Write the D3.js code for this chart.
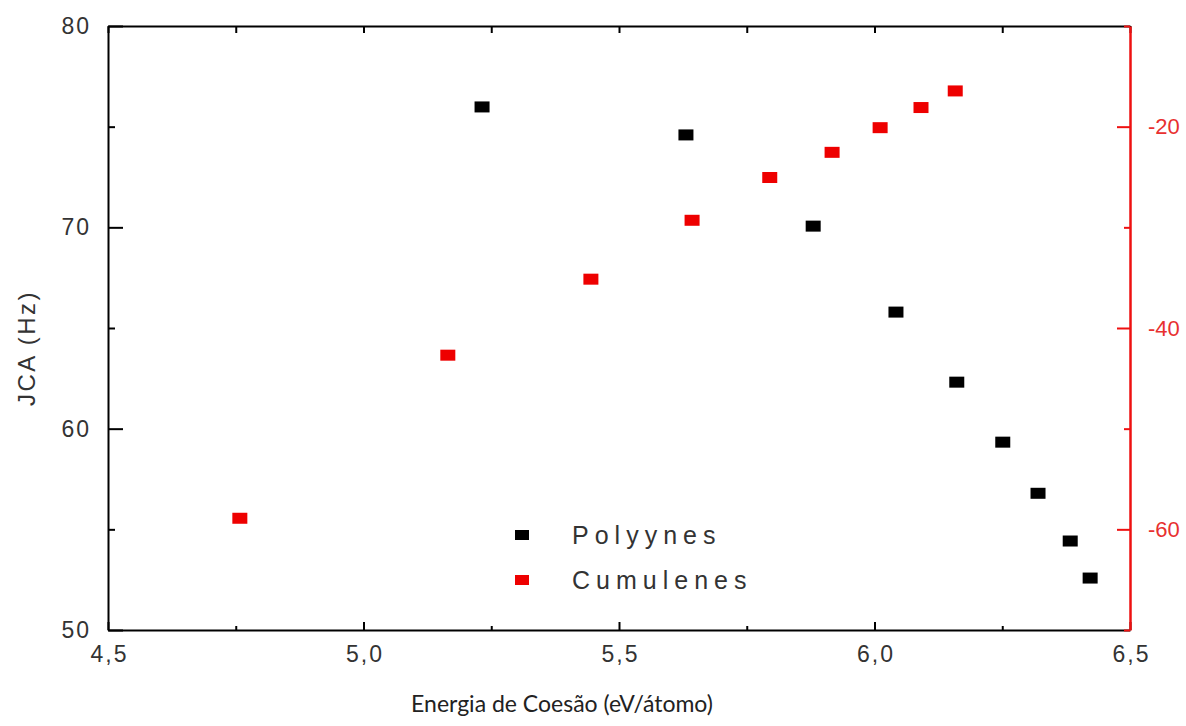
<!DOCTYPE html>
<html>
<head>
<meta charset="utf-8">
<script src="https://cdn.jsdelivr.net/npm/d3@7"></script>
<style>
  body { margin: 0; background: #fff; }
  svg text { font-family: "Liberation Sans", Arial, sans-serif; }
</style>
</head>
<body>
<div id="chart"></div>
<script>
// data
var polyX = [5.232, 5.631, 5.880, 6.042, 6.161, 6.251, 6.320, 6.383, 6.422];
var polyY = [75.98, 74.59, 70.06, 65.79, 62.31, 59.33, 56.79, 54.42, 52.58];
var cumX = [4.758, 5.165, 5.445, 5.643, 5.795, 5.917, 6.011, 6.091, 6.158];
var cumY = [-58.9, -42.7, -35.15, -29.3, -25.05, -22.55, -20.1, -18.1, -16.45];
var xTicks = [4.5, 5.0, 5.5, 6.0, 6.5];
var xMinor = [4.75, 5.25, 5.75, 6.25];
var leftTicks = [50, 60, 70, 80];
var leftMinor = [55, 65, 75];
var rightTicks = [-20, -40, -60];
var rightMinor = [-10, -30, -50, -70];
var seriesNames = ["Polyynes", "Cumulenes"];
var seriesColors = ["#000000", "#ee0000"];

var W = 1186, H = 726;
var margin = { top: 26, right: 56, bottom: 96, left: 108 };
var width = W - margin.left - margin.right,
    height = H - margin.top - margin.bottom;

var svg = d3.select("#chart")
  .append("svg")
  .attr("width", W)
  .attr("height", H);

var g = svg.append("g")
  .attr("transform", "translate(" + margin.left + "," + margin.top + ")");

var loc = d3.formatLocale({ decimal: ",", thousands: ".", grouping: [3], currency: ["", ""], minus: "-" });
var fmt1 = loc.format(".1f");
var fmt0 = loc.format("d");

var x = d3.scaleLinear().domain([4.5, 6.5]).range([0, width]);
var yL = d3.scaleLinear().domain([50, 80]).range([height, 0]);
var yR = d3.scaleLinear().domain([-70, -10]).range([height, 0]);

function minorStyle(a, col) {
  a.select(".domain").remove();
  a.selectAll("line").attr("stroke", col).attr("stroke-width", 2);
}

// top frame line + ticks
var topAx = g.append("g")
  .call(d3.axisTop(x).tickValues(xTicks.concat(xMinor)).tickSizeInner(-7).tickSizeOuter(0).tickFormat(""));
topAx.select(".domain").attr("stroke", "#000").attr("stroke-width", 2);
topAx.selectAll(".tick line").attr("stroke", "#000").attr("stroke-width", 2);

// bottom axis
var botAx = g.append("g")
  .attr("transform", "translate(0," + height + ")")
  .call(d3.axisBottom(x).tickValues(xTicks).tickSizeInner(-8).tickSizeOuter(0).tickPadding(16).tickFormat(fmt1));
botAx.select(".domain").attr("stroke", "#000").attr("stroke-width", 2);
botAx.selectAll(".tick line").attr("stroke", "#000").attr("stroke-width", 2);
botAx.selectAll("text").attr("font-size", 23).attr("fill", "#333").attr("letter-spacing", 2).attr("dx", 1);
g.append("g")
  .attr("transform", "translate(0," + height + ")")
  .call(d3.axisBottom(x).tickValues(xMinor).tickSizeInner(-4).tickSizeOuter(0).tickFormat(""))
  .call(minorStyle, "#000");

// left axis
var leftAx = g.append("g")
  .call(d3.axisLeft(yL).tickValues(leftTicks).tickSizeInner(-15).tickSizeOuter(0).tickPadding(17).tickFormat(fmt0));
leftAx.select(".domain").attr("stroke", "#000").attr("stroke-width", 2);
leftAx.selectAll(".tick line").attr("stroke", "#000").attr("stroke-width", 2);
leftAx.selectAll("text").attr("font-size", 23).attr("fill", "#333").attr("letter-spacing", 2);
g.append("g")
  .call(d3.axisLeft(yL).tickValues(leftMinor).tickSizeInner(-7).tickSizeOuter(0).tickFormat(""))
  .call(minorStyle, "#000");

// right axis (red)
var rightAx = g.append("g")
  .attr("transform", "translate(" + width + ",0)")
  .call(d3.axisRight(yR).tickValues(rightTicks).tickSizeInner(-13).tickSizeOuter(0).tickPadding(18).tickFormat(fmt0));
rightAx.select(".domain").attr("stroke", "#ee1111").attr("stroke-width", 2.5);
rightAx.selectAll(".tick line").attr("stroke", "#ee1111").attr("stroke-width", 2);
rightAx.selectAll("text").attr("font-size", 22).attr("fill", "#e83030").attr("letter-spacing", 0);
g.append("g")
  .attr("transform", "translate(" + width + ",0)")
  .call(d3.axisRight(yR).tickValues(rightMinor).tickSizeInner(-6).tickSizeOuter(0).tickFormat(""))
  .call(minorStyle, "#ee1111");

// polyynes points
g.selectAll(".poly")
  .data(polyX)
  .enter()
  .append("rect")
  .attr("class", "poly")
  .attr("x", function (d) { return x(d) - 7.5; })
  .attr("y", function (d, i) { return yL(polyY[i]) - 5.5; })
  .attr("width", 15)
  .attr("height", 11)
  .attr("fill", seriesColors[0]);

// cumulenes points
g.selectAll(".cum")
  .data(cumX)
  .enter()
  .append("rect")
  .attr("class", "cum")
  .attr("x", function (d) { return x(d) - 7.5; })
  .attr("y", function (d, i) { return yR(cumY[i]) - 5.5; })
  .attr("width", 15)
  .attr("height", 11)
  .attr("fill", seriesColors[1]);

// legend
var legend = svg.append("g");
seriesNames.forEach(function (name, i) {
  var ly = 535 + i * 45;
  legend.append("rect")
    .attr("x", 515).attr("y", ly - 5)
    .attr("width", 14).attr("height", 10)
    .attr("fill", seriesColors[i]);
  legend.append("text")
    .attr("x", 572).attr("y", ly + 9)
    .attr("font-size", 25)
    .attr("letter-spacing", 6)
    .attr("fill", "#333")
    .text(name);
});

// axis titles
svg.append("text")
  .attr("transform", "translate(35,348) rotate(-90)")
  .attr("text-anchor", "middle")
  .attr("font-size", 24)
  .attr("fill", "#333")
  .attr("letter-spacing", 2.5)
  .text("JCA (Hz)");

svg.append("text")
  .attr("x", 562).attr("y", 712)
  .attr("text-anchor", "middle")
  .attr("font-size", 23)
  .attr("fill", "#222")
  .style("font-family", "Lato, 'Open Sans', sans-serif")
  .text("Energia de Coesão (eV/átomo)");
</script>
</body>
</html>
